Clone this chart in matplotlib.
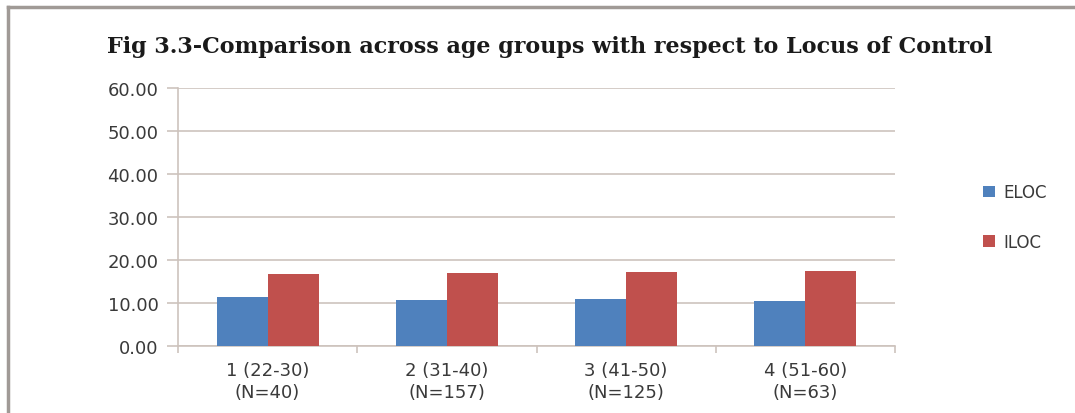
import matplotlib.pyplot as plt
import numpy as np
from matplotlib.lines import Line2D

# -------------------- Data --------------------
groups = ["1 (22-30)\n(N=40)", "2 (31-40)\n(N=157)", "3 (41-50)\n(N=125)", "4 (51-60)\n(N=63)"]
eloc = [11.4, 10.8, 10.9, 10.5]
iloc = [16.7, 17.0, 17.2, 17.5]
yticks = [0, 10, 20, 30, 40, 50, 60]

blue = "#4f81bd"
red = "#c0504d"
grid_c = "#cdc3bd"
txt_c = "#3a3a3a"

fig = plt.figure(figsize=(10.75, 4.14), dpi=100)
ax = fig.add_axes([178 / 1075, 1 - 347 / 414, 717 / 1075, 258 / 414])

x = np.arange(len(groups))
w = 0.285
ax.bar(x - w / 2, eloc, w, color=blue, label="ELOC", zorder=3)
ax.bar(x + w / 2, iloc, w, color=red, label="ILOC", zorder=3)

ax.set_xlim(-0.5, len(groups) - 0.5)
ax.set_ylim(0, 60)
ax.set_yticks(yticks)
ax.set_yticklabels([f"{v:.2f}" for v in yticks], fontsize=13, color=txt_c)
ax.yaxis.grid(True, color=grid_c, linewidth=1.2, zorder=0)
ax.tick_params(axis="y", length=8, color=grid_c, width=1.2, pad=6)

# category labels centred, tick marks between categories
ax.set_xticks(x)
ax.set_xticklabels(groups, fontsize=13, color=txt_c, linespacing=1.25)
ax.tick_params(axis="x", length=0, pad=11)
ax.set_xticks(np.arange(len(groups) + 1) - 0.5, minor=True)
ax.tick_params(axis="x", which="minor", length=5, color=grid_c, width=1.2)

for s in ["top", "right"]:
    ax.spines[s].set_visible(False)
ax.spines["left"].set_color(grid_c)
ax.spines["left"].set_linewidth(1.2)
ax.spines["bottom"].set_color(grid_c)
ax.spines["bottom"].set_linewidth(1.2)

fig.text(550 / 1075, 1 - 47 / 414,
         "Fig 3.3-Comparison across age groups with respect to Locus of Control",
         ha="center", va="center", fontsize=16, fontweight="bold",
         family="DejaVu Serif", color="#1a1a1a")

fig.legend(loc="center left", bbox_to_anchor=(968 / 1075, 1 - 218 / 414),
           frameon=False, fontsize=12, handlelength=0.7, handleheight=0.7,
           labelspacing=1.9, handletextpad=0.5, labelcolor=txt_c)

# outer frame of the original picture
fig.add_artist(Line2D([8 / 1075, 8 / 1075], [0, 1 - 8 / 414], color="#a09a96", lw=2.5,
                      transform=fig.transFigure))
fig.add_artist(Line2D([8 / 1075, 1], [1 - 8 / 414, 1 - 8 / 414], color="#a09a96", lw=2.5,
                      transform=fig.transFigure))

fig.savefig("out.png", dpi=100)
